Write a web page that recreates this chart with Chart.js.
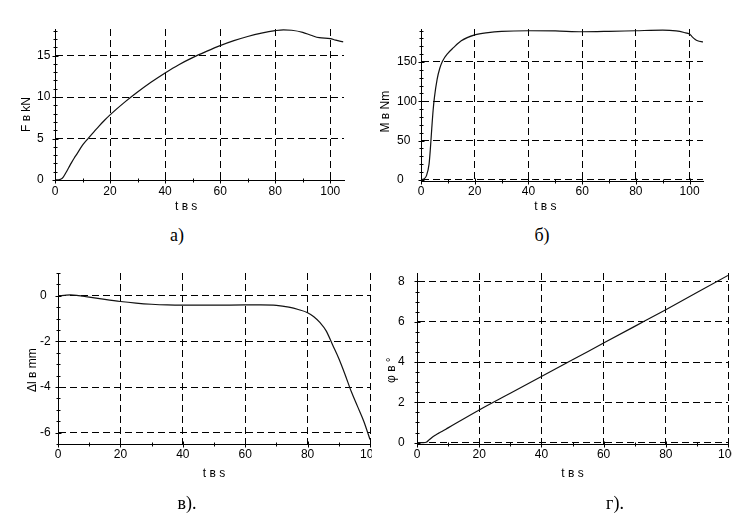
<!DOCTYPE html>
<html>
<head>
<meta charset="utf-8">
<script src="https://cdn.jsdelivr.net/npm/chart.js@4.4.1/dist/chart.umd.min.js"></script>
<style>
  body { margin: 0; background: #fff; }
  #wrap { position: relative; width: 745px; height: 515px; overflow: hidden; background: #fff; }
  canvas { position: absolute; }
  .cap { position: absolute; font-family: 'Liberation Serif', serif; font-size: 18px; color: #000;
         transform: translate(-50%, -50%); white-space: nowrap; }
</style>
</head>
<body>
<div id="wrap">
  <canvas id="chA" width="370" height="220" style="left:0;top:0"></canvas>
  <canvas id="chB" width="375" height="220" style="left:370px;top:0"></canvas>
  <canvas id="chC" width="372" height="265" style="left:0;top:250px"></canvas>
  <canvas id="chD" width="360" height="265" style="left:372px;top:250px"></canvas>
  <div class="cap" style="left:177px;top:235px">а)</div>
  <div class="cap" style="left:542px;top:235px">б)</div>
  <div class="cap" style="left:187px;top:503px">в).</div>
  <div class="cap" style="left:615px;top:503px">г).</div>
</div>
<script>
// а) сила F (kN) по времени t (s)
const tA = [0, 1, 2, 3, 4, 5, 6, 7, 8, 10, 12, 14, 16, 18, 20, 25, 30, 35, 40, 45, 50, 55, 60, 65, 70, 75, 80, 83, 86, 90, 93, 96, 100, 102, 104.7];
const fA = [0, 0.02, 0.08, 0.35, 0.9, 1.5, 2.1, 2.65, 3.15, 4.2, 5.0, 5.75, 6.5, 7.2, 7.85, 9.3, 10.6, 11.8, 12.9, 13.9, 14.75, 15.5, 16.2, 16.8, 17.3, 17.7, 18.0, 18.1, 18.05, 17.8, 17.45, 17.15, 17.05, 16.85, 16.65];

// б) момент M (Nm)
const tB = [0, 1, 2, 3, 3.5, 4, 4.5, 5, 6, 7, 8, 10, 12, 15, 20, 25, 30, 40, 50, 60, 70, 80, 90, 95, 98, 100, 101, 102, 103, 105];
const mB = [0, 1, 5, 20, 40, 65, 88, 105, 128, 142, 151, 161, 168, 177, 184.5, 187.5, 189, 189.8, 189.5, 188.5, 189, 189.8, 190.5, 189.5, 187.5, 185.5, 182, 179, 177, 175.5];

// в) Δl (mm)
const tC = [0, 2, 4, 6, 8, 10, 15, 20, 25, 30, 35, 40, 50, 60, 65, 70, 74, 77, 80, 82, 84, 86, 88, 90, 92, 94, 96, 98, 100];
const dC = [0, 0.02, 0.04, 0.02, -0.02, -0.06, -0.16, -0.25, -0.32, -0.37, -0.4, -0.41, -0.41, -0.4, -0.4, -0.42, -0.5, -0.6, -0.74, -0.92, -1.18, -1.55, -2.15, -2.75, -3.45, -4.2, -4.85, -5.5, -6.3];

// г) угол φ (°)
const tD = [0, 2, 3, 4, 5, 6, 7, 8, 10, 20, 30, 40, 50, 60, 70, 80, 90, 100];
const pD = [0, 0, 0.02, 0.15, 0.28, 0.38, 0.47, 0.55, 0.73, 1.62, 2.45, 3.28, 4.11, 4.94, 5.77, 6.6, 7.45, 8.3];

// деления осей: [min, max, мелкий шаг, крупный шаг]
const xAxisA = [0, 105, 10, 20];
const yAxisA = [0, 18.2, 1, 5];
const xAxisB = [0, 105, 10, 20];
const yAxisB = [-1.5, 192, 10, 50];
const xAxisC = [0, 100, 10, 20];
const yAxisC = [-6.5, 1, 0.5, 2];
const xAxisD = [0, 100, 10, 20];
const yAxisD = [-0.07, 8.42, 0.5, 2];

const sp = n => '\u00a0'.repeat(n);
const FONT = 'Liberation Sans';

function isMajor(v, step) {
  const q = v / step;
  return Math.abs(q - Math.round(q)) < 1e-6;
}

function stepTicks(min, max, step) {
  const out = [];
  const k0 = Math.ceil(min / step - 1e-9), k1 = Math.floor(max / step + 1e-9);
  for (let k = k0; k <= k1; k++) out.push(k * step || 0);
  return out;
}

// засечки, пересекающие ось
const crossTicks = {
  id: 'crossTicks',
  afterDraw(chart) {
    const ctx = chart.ctx;
    ctx.save();
    ctx.strokeStyle = '#000';
    ctx.lineWidth = 1;
    Object.values(chart.scales).forEach(s => {
      s.ticks.forEach(t => {
        const len = t.label !== '' ? 3 : 2;
        const p = Math.round(s.getPixelForValue(t.value)) + 0.5;
        ctx.beginPath();
        if (s.isHorizontal()) {
          const y = Math.round(s.top) + 0.5;
          ctx.moveTo(p, y - len); ctx.lineTo(p, y + len);
        } else {
          const x = Math.round(s.right) + 0.5;
          ctx.moveTo(x - len, p); ctx.lineTo(x + len, p);
        }
        ctx.stroke();
      });
    });
    ctx.restore();
  }
};

function axis(range, horizontal, o) {
  const [min, max, minor, major] = range;
  return {
    type: 'linear', min, max,
    afterBuildTicks: s => { s.ticks = stepTicks(min, max, minor).map(v => ({ value: v })); },
    afterFit: s => {
      if (horizontal) { s.height = o.size; s.paddingLeft = 0; s.paddingRight = 0; }
      else { s.width = o.size; s.paddingTop = 0; s.paddingBottom = 0; }
    },
    grid: {
      color: c => (c.tick && isMajor(c.tick.value, major)) ? '#000' : 'rgba(0,0,0,0)',
      lineWidth: 1,
      drawTicks: false
    },
    border: { display: true, color: '#000', width: 1, dash: [7, 4] },
    ticks: {
      autoSkip: false, maxRotation: 0, minRotation: 0,
      padding: o.tickPad,
      crossAlign: horizontal ? 'near' : 'far',
      color: '#000',
      font: { family: FONT, size: 12 },
      callback: v => isMajor(v, major) ? String(v) : ''
    },
    title: {
      display: true, text: o.title, color: '#000',
      font: { family: FONT, size: 12 },
      padding: o.titlePad
    }
  };
}

function makeChart(id, xs, ys, pad, xOpt, yOpt) {
  return new Chart(document.getElementById(id), {
    type: 'line',
    data: {
      datasets: [{
        data: xs.map((x, i) => ({ x, y: ys[i] })),
        borderColor: '#111', borderWidth: 1.2, pointRadius: 0,
        cubicInterpolationMode: 'monotone', fill: false
      }]
    },
    options: {
      responsive: false, animation: false,
      layout: { padding: pad },
      plugins: { legend: { display: false }, tooltip: { enabled: false } },
      scales: { x: xOpt, y: yOpt }
    },
    plugins: [crossTicks]
  });
}

makeChart('chA', tA, fA, { left: 37, top: 29, right: 26, bottom: 5 },
  axis(xAxisA, true, { size: 35, tickPad: 4, title: 't в s' + sp(8), titlePad: { top: 0, bottom: 1 } }),
  axis(yAxisA, false, { size: 18, tickPad: 5, title: 'F в kN' + sp(6), titlePad: { top: -17.5, bottom: 0 } }));

makeChart('chB', tB, mB, { left: 27, top: 29, right: 42, bottom: 4 },
  axis(xAxisB, true, { size: 35, tickPad: 3.5, title: 't в s' + sp(10), titlePad: { top: 0, bottom: 2 } }),
  axis(yAxisB, false, { size: 24, tickPad: 5, title: 'M в Nm' + sp(4), titlePad: { top: -19, bottom: 0 } }));

makeChart('chC', tC, dC, { left: 40, top: 23, right: 2, bottom: 34 },
  axis(xAxisC, true, { size: 37, tickPad: 3.5, title: 't в s', titlePad: { top: 0, bottom: 0.5 } }),
  axis(yAxisC, false, { size: 18, tickPad: 5, title: 'Δl в mm' + sp(7), titlePad: { top: -14.5, bottom: 0 } }));

makeChart('chD', tD, pD, { left: 26, top: 23, right: 4, bottom: 34 },
  axis(xAxisD, true, { size: 37, tickPad: 3.5, title: 't в s', titlePad: { top: 0, bottom: 0.5 } }),
  axis(yAxisD, false, { size: 19, tickPad: 5, title: 'φ в °' + sp(7), titlePad: { top: -13.5, bottom: 0 } }));
</script>
</body>
</html>
